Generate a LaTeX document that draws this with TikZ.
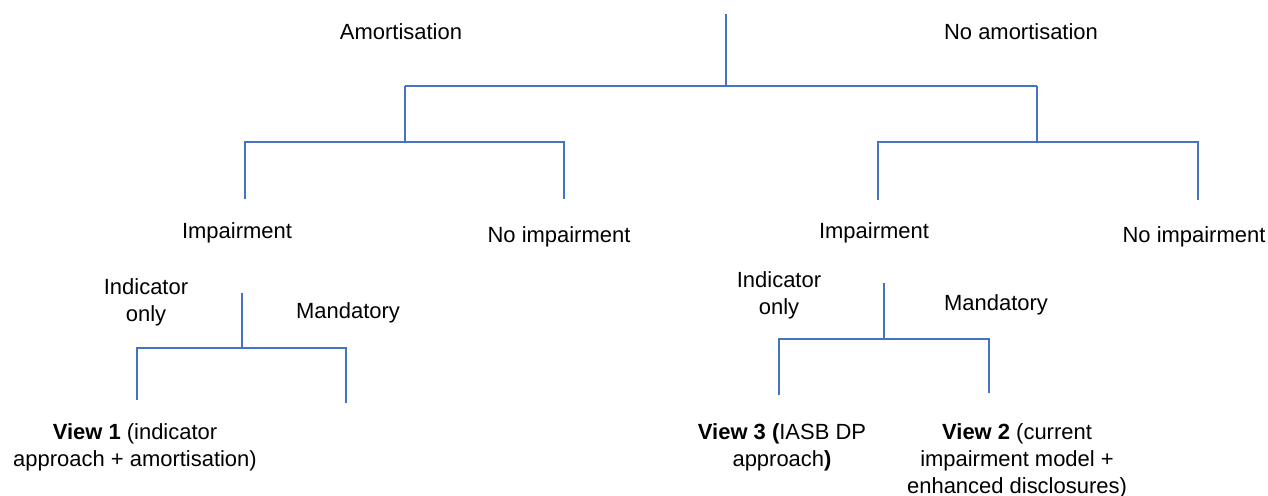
\documentclass[tikz,border=0pt]{standalone}
\usepackage{fontspec}
\setmainfont{Liberation Sans}
\usepackage{tikz}
\definecolor{branch}{RGB}{68, 114, 196}

\begin{document}
\begin{tikzpicture}[x=0.02cm, y=-0.02cm,
    every node/.style={font=\fontsize{12.5}{15.4}\selectfont, align=center, inner sep=0pt},
    branchline/.style={branch, line width=1.1pt}]
\useasboundingbox (0,0) rectangle (1268,495);

% Branch points
\coordinate (root) at (726,14);
\coordinate (rootj) at (726,86);
\coordinate (amtop) at (405,86);
\coordinate (amjoin) at (405,142);
\coordinate (noamtop) at (1037,86);
\coordinate (noamjoin) at (1037,142);
\foreach \name/\x/\y in {imptopL/245/142, impendL/245/199, noimptopL/564/142, noimpendL/564/199,
    imptopR/878/142, impendR/878/200, noimptopR/1198/142, noimpendR/1198/200} {
    \coordinate (\name) at (\x,\y);
}
\foreach \name/\x/\y in {splitL/242/293, joinL/242/348, indtopL/137/348, indendL/137/400, mantopL/346/348, manendL/346/403,
    splitR/884/283, joinR/884/339, indtopR/779/339, indendR/779/395, mantopR/989/339, manendR/989/393} {
    \coordinate (\name) at (\x,\y);
}

% Amortisation or not
\draw[branchline] (root) -- (rootj);
\draw[branchline] (amtop) -- (noamtop);
\draw[branchline] (amtop) -- (amjoin);
\draw[branchline] (noamtop) -- (noamjoin);
\node (amort) at (401,32) {Amortisation};
\node (noamort) at (1021,32) {No amortisation};

% Impairment or not
\draw[branchline] (impendL) -- (imptopL) -- (noimptopL) -- (noimpendL);
\draw[branchline] (impendR) -- (imptopR) -- (noimptopR) -- (noimpendR);
\node (impL) at (237,233) {Impairment};
\node (noimpL) at (559,237) {No impairment};
\node (impR) at (874,233) {Impairment};
\node (noimpR) at (1194,237) {No impairment};

% Indicator only or mandatory
\draw[branchline] (splitL) -- (joinL);
\draw[branchline] (indendL) -- (indtopL) -- (mantopL) -- (manendL);
\draw[branchline] (splitR) -- (joinR);
\draw[branchline] (indendR) -- (indtopR) -- (mantopR) -- (manendR);
\node (indL) at (146,302) {Indicator\\only};
\node (manL) at (348,313) {Mandatory};
\node (indR) at (779,295) {Indicator\\only};
\node (manR) at (996,305) {Mandatory};

% Views
\node (view1) at (135,447) {\textbf{View 1} (indicator\\approach + amortisation)};
\node (view3) at (782,447) {\textbf{View 3 (}IASB DP\\approach\textbf{)}};
\node (view2) at (1017,461) {\textbf{View 2} (current\\impairment model +\\enhanced disclosures)};
\end{tikzpicture}
\end{document}
